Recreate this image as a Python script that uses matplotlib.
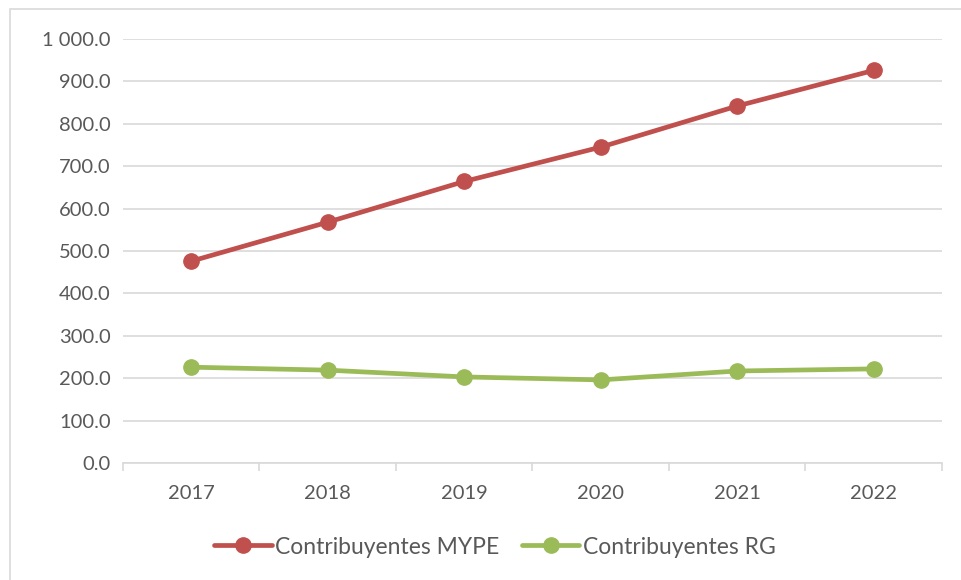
import matplotlib.pyplot as plt
from matplotlib.patches import Rectangle
from matplotlib.ticker import FuncFormatter, FixedLocator

plt.rcParams['font.family'] = ['Lato', 'DejaVu Sans']

years = ["2017", "2018", "2019", "2020", "2021", "2022"]
mype = [476, 568, 664, 745, 842, 926]
rg = [226, 219, 203, 196, 217, 222]

fig = plt.figure(figsize=(9.62, 5.8), dpi=100)
ax = fig.add_axes([123 / 962, 1 - 463 / 580, (942 - 123) / 962, (463 - 39) / 580])

# outer chart border
fig.patches.append(Rectangle((10 / 962, -0.01), 1.0, 1 - 9 / 580 + 0.01,
                             transform=fig.transFigure, fill=False,
                             edgecolor="#d9d9d9", linewidth=1.2))

x = list(range(len(years)))
ax.plot(x, mype, color="#C0504D", lw=3.4, marker="o", ms=11,
        label="Contribuyentes MYPE", solid_capstyle="round")
ax.plot(x, rg, color="#9BBB59", lw=3.4, marker="o", ms=11,
        label="Contribuyentes RG", solid_capstyle="round")

ax.set_xlim(-0.5, len(years) - 0.5)
ax.set_ylim(0, 1000)
ax.set_yticks(range(0, 1001, 100))
ax.yaxis.set_major_formatter(FuncFormatter(
    lambda v, p: f"{v:,.1f}".replace(",", " ")))
ax.set_xticks(x)
ax.set_xticklabels(years)
ax.xaxis.set_minor_locator(FixedLocator([i - 0.5 for i in range(len(years) + 1)]))

ax.grid(axis="y", color="#d9d9d9", lw=1.2)
ax.set_axisbelow(True)
for s in ["top", "right", "left"]:
    ax.spines[s].set_visible(False)
ax.spines["bottom"].set_color("#d9d9d9")
ax.spines["bottom"].set_linewidth(1.2)

ax.tick_params(axis="y", length=0, pad=9, labelsize=14.5, labelcolor="#595959")
ax.tick_params(axis="x", which="major", length=0, pad=16, labelsize=14.5,
               labelcolor="#595959")
ax.tick_params(axis="x", which="minor", length=6, width=1.2, color="#d9d9d9")

ax.legend(loc="center", bbox_to_anchor=(495 / 962, 1 - 547 / 580),
          bbox_transform=fig.transFigure, ncol=2, frameon=False,
          fontsize=16.5, labelcolor="#595959", handlelength=2.5,
          handletextpad=0.15, columnspacing=1.0)

fig.savefig("out.png", dpi=100)
